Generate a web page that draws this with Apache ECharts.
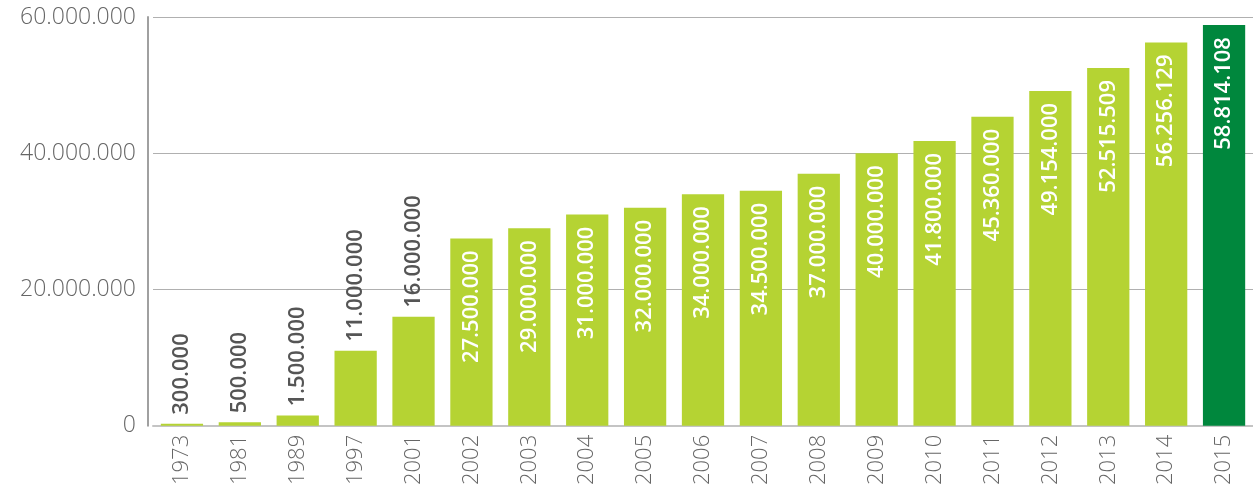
<!DOCTYPE html>
<html>
<head>
<meta charset="utf-8">
<script src="https://cdn.jsdelivr.net/npm/echarts@6/dist/echarts.min.js"></script>
<style>
  html, body { margin: 0; padding: 0; background: #fff; }
  #chart { width: 1253px; height: 488px; }
</style>
</head>
<body>
<div id="chart"></div>
<script>
const years = ['1973', '1981', '1989', '1997', '2001', '2002', '2003', '2004', '2005', '2006',
  '2007', '2008', '2009', '2010', '2011', '2012', '2013', '2014', '2015'];
const values = [300000, 500000, 1500000, 11000000, 16000000, 27500000, 29000000, 31000000, 32000000, 34000000,
  34500000, 37000000, 40000000, 41800000, 45360000, 49154000, 52515509, 56256129, 58814108];
const yTicks = [0, 20000000, 40000000, 60000000];

const fmt = v => String(v).replace(/\B(?=(\d{3})+(?!\d))/g, '.');

const chart = echarts.init(document.getElementById('chart'));

const barData = values.map((v, i) => {
  const outside = v < 20000000;
  return {
    value: v,
    itemStyle: { color: i === values.length - 1 ? '#00873d' : '#b5d333' },
    label: outside ? {
      position: 'top',
      align: 'left',
      color: '#555',
      distance: 9
    } : {
      position: 'insideTop',
      align: 'right',
      color: '#fff',
      distance: 12
    }
  };
});

chart.setOption({
  animation: false,
  grid: { left: 153, top: 17, right: 0, bottom: 62 },
  xAxis: {
    type: 'category',
    data: years,
    axisTick: { show: false },
    axisLine: { lineStyle: { color: '#c4c4c4', width: 2 } },
    axisLabel: {
      rotate: 90,
      fontSize: 22,
      color: '#666',
      fontFamily: 'Open Sans',
      fontWeight: 300,
      margin: 9,
      interval: 0
    }
  },
  yAxis: {
    type: 'value',
    min: 0,
    max: yTicks[yTicks.length - 1],
    interval: 20000000,
    offset: 5,
    axisLine: { show: true, lineStyle: { color: '#a0a0a0', width: 2 } },
    axisTick: { show: false },
    splitLine: { lineStyle: { color: '#b0b0b0', width: 1 } },
    axisLabel: {
      fontSize: 23,
      color: '#666',
      fontFamily: 'Open Sans',
      fontWeight: 300,
      margin: 12,
      formatter: v => fmt(v)
    }
  },
  series: [{
    type: 'bar',
    data: barData,
    barWidth: '73%',
    label: {
      show: true,
      rotate: 90,
      verticalAlign: 'middle',
      fontSize: 22,
      fontWeight: 600,
      fontFamily: 'Open Sans',
      formatter: p => fmt(p.value)
    }
  }]
});
</script>
</body>
</html>
